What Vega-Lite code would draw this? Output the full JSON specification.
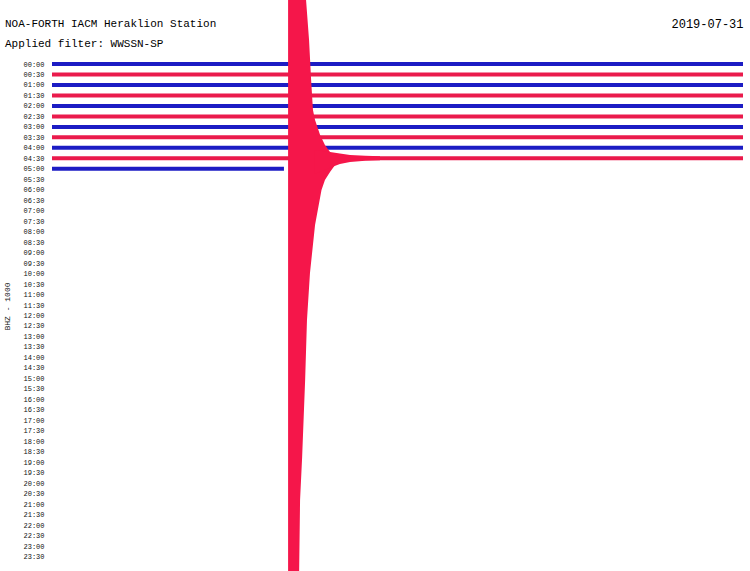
{
  "$schema": "https://vega.github.io/schema/vega-lite/v6.json",
  "width": 691,
  "height": 571,
  "autosize": "none",
  "padding": {"left": 52, "top": 0, "right": 7, "bottom": 0},
  "background": "white",
  "config": {"view": {"stroke": null}, "font": "Liberation Mono"},
  "title": {
    "text": "NOA-FORTH IACM Heraklion Station",
    "subtitle": "Applied filter: WWSSN-SP",
    "anchor": "start",
    "frame": "group",
    "dx": -47,
    "dy": 53,
    "fontSize": 11,
    "subtitleFontSize": 11,
    "font": "Liberation Mono",
    "subtitleFont": "Liberation Mono",
    "fontWeight": "normal",
    "color": "#000000",
    "subtitleColor": "#000000",
    "subtitlePadding": 9
  },
  "datasets": {
    "traces": [
      {"row": 0, "band": "blue", "t": 0, "t2": 30},
      {"row": 1, "band": "red", "t": 0, "t2": 30},
      {"row": 2, "band": "blue", "t": 0, "t2": 30},
      {"row": 3, "band": "red", "t": 0, "t2": 30},
      {"row": 4, "band": "blue", "t": 0, "t2": 30},
      {"row": 5, "band": "red", "t": 0, "t2": 30},
      {"row": 6, "band": "blue", "t": 0, "t2": 30},
      {"row": 7, "band": "red", "t": 0, "t2": 30},
      {"row": 8, "band": "blue", "t": 0, "t2": 30},
      {"row": 9, "band": "red", "t": 0, "t2": 30},
      {"row": 10, "band": "blue", "t": 0, "t2": 10.07}
    ],
    "spike": [
      {"row": -6.107, "t": 11.03, "t2": 10.25},
      {"row": -2.29, "t": 11.16, "t2": 10.25},
      {"row": 1.527, "t": 11.25, "t2": 10.25},
      {"row": 4.39, "t": 11.33, "t2": 10.25},
      {"row": 5.34, "t": 11.42, "t2": 10.25},
      {"row": 6.77, "t": 11.64, "t2": 10.25},
      {"row": 7.73, "t": 11.85, "t2": 10.25},
      {"row": 8.4, "t": 12.07, "t2": 10.25},
      {"row": 8.97, "t": 12.29, "t2": 10.25},
      {"row": 9.64, "t": 12.29, "t2": 10.25},
      {"row": 10.31, "t": 12.07, "t2": 10.25},
      {"row": 11.07, "t": 11.85, "t2": 10.25},
      {"row": 12.02, "t": 11.7, "t2": 10.25},
      {"row": 12.98, "t": 11.62, "t2": 10.25},
      {"row": 15.36, "t": 11.42, "t2": 10.25},
      {"row": 19.94, "t": 11.2, "t2": 10.25},
      {"row": 24.43, "t": 11.07, "t2": 10.25},
      {"row": 30.15, "t": 10.99, "t2": 10.25},
      {"row": 37.5, "t": 10.86, "t2": 10.25},
      {"row": 41.6, "t": 10.77, "t2": 10.25},
      {"row": 48.378, "t": 10.73, "t2": 10.25}
    ],
    "coda": [
      {"t": 11.4, "row": 8.2, "row2": 10.5},
      {"t": 12.07, "row": 8.4, "row2": 9.9},
      {"t": 12.5, "row": 8.55, "row2": 9.55},
      {"t": 12.94, "row": 8.68, "row2": 9.35},
      {"t": 13.6, "row": 8.76, "row2": 9.22},
      {"t": 14.24, "row": 8.8, "row2": 9.18}
    ]
  },
  "encoding": {
    "x": {
      "field": "t",
      "type": "quantitative",
      "stack": null,
      "scale": {"domain": [0, 30], "nice": false, "zero": false},
      "axis": {
        "orient": "top",
        "labels": false,
        "ticks": false,
        "domain": false,
        "grid": false,
        "title": "2019-07-31",
        "titleX": 691,
        "titleY": 27,
        "titleAlign": "right",
        "titleBaseline": "alphabetic",
        "titleAnchor": null,
        "titleFontSize": 12,
        "titleFont": "Liberation Mono",
        "titleFontWeight": "normal",
        "titleColor": "#000000"
      }
    },
    "y": {
      "field": "row",
      "type": "quantitative",
      "stack": null,
      "scale": {"domain": [-6.107, 48.378], "nice": false, "zero": false, "reverse": true},
      "axis": {
        "values": [0,1,2,3,4,5,6,7,8,9,10,11,12,13,14,15,16,17,18,19,20,21,22,23,24,25,26,27,28,29,30,31,32,33,34,35,36,37,38,39,40,41,42,43,44,45,46,47],
        "labelExpr": "(datum.value < 20 ? '0' : '') + floor(datum.value / 2) + ':' + (datum.value % 2 == 1 ? '30' : '00')",
        "domain": false,
        "ticks": false,
        "grid": false,
        "labelFontSize": 7,
        "labelFont": "Liberation Mono",
        "labelColor": "#111111",
        "labelPadding": 8,
        "labelBaseline": "middle",
        "labelOverlap": false,
        "title": "BHZ - 1000",
        "titleFontSize": 8,
        "titleFont": "Liberation Mono",
        "titleFontWeight": "normal",
        "titleColor": "#111111",
        "titleX": -45,
        "titleY": 306,
        "titleAlign": "center",
        "titleBaseline": "middle"
      }
    }
  },
  "layer": [
    {
      "data": {"name": "traces"},
      "mark": {"type": "rule", "strokeWidth": 4, "strokeCap": "butt"},
      "encoding": {
        "x2": {"field": "t2"},
        "color": {
          "field": "band",
          "type": "nominal",
          "scale": {"domain": ["blue", "red"], "range": ["#1c1cc4", "#ea1a4c"]},
          "legend": null
        }
      }
    },
    {
      "data": {"name": "spike"},
      "mark": {"type": "area", "orient": "horizontal", "color": "#f5164a"},
      "encoding": {
        "x2": {"field": "t2"}
      }
    },
    {
      "data": {"name": "coda"},
      "mark": {"type": "area", "orient": "vertical", "color": "#f5164a"},
      "encoding": {
        "y2": {"field": "row2"}
      }
    }
  ]
}
